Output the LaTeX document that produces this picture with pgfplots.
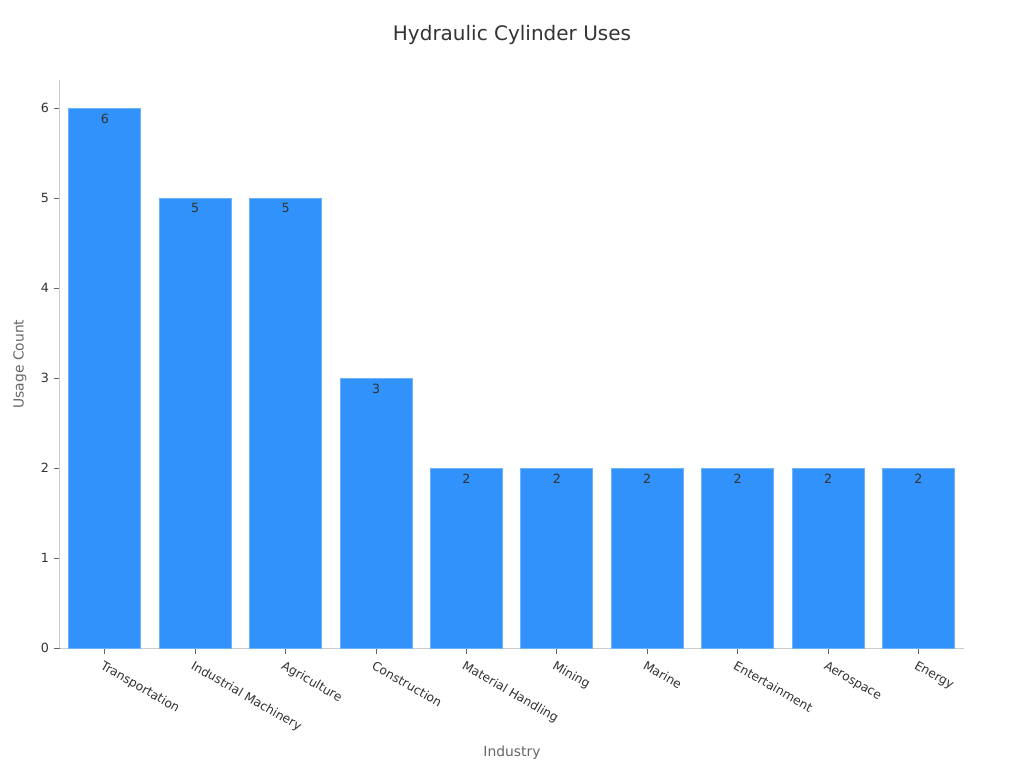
\documentclass[border=0pt]{standalone}
\usepackage{fontspec}
\setmainfont{DejaVu Sans}
\usepackage{pgfplots}
\pgfplotsset{compat=1.18}
\definecolor{barblue}{RGB}{48,146,250}
\definecolor{baredge}{RGB}{110,178,250}
\definecolor{axgray}{RGB}{204,204,204}
\definecolor{txt}{RGB}{51,51,51}
\definecolor{labgray}{RGB}{102,102,102}
\begin{document}
\begin{tikzpicture}[x=0.75pt,y=0.75pt]
\useasboundingbox (0,0) rectangle (1024,768);
\node[font=\fontsize{15}{18}\selectfont, text=txt] at (512,733) {Hydraulic Cylinder Uses};
\node[font=\fontsize{10.4}{12}\selectfont, text=labgray] at (512,15) {Industry};
\node[font=\fontsize{10.4}{12}\selectfont, text=labgray, rotate=90] at (20,404) {Usage Count};
\begin{axis}[
  at={(66,133)}, anchor=south west,
  scale only axis, width=678pt, height=426pt,
  xmin=-0.5, xmax=9.5, ymin=0, ymax=6.31,
  axis x line*=bottom, axis y line*=left,
  axis line style={axgray, line width=0.8pt},
  every outer x axis line/.append style={-}, every outer y axis line/.append style={-},
  tick align=outside, major tick length=4.5pt,
  tick style={labgray, line width=0.6pt},
  ytick={0,1,2,3,4,5,6},
  xtick={0,...,9},
  xticklabels={Transportation,Industrial Machinery,Agriculture,Construction,Material Handling,Mining,Marine,Entertainment,Aerospace,Energy},
  x tick label style={rotate=-30, anchor=north west, xshift=-1.5pt, yshift=-0.5pt, font=\fontsize{9.2}{11}\selectfont, text=txt},
  y tick label style={font=\fontsize{9.5}{11}\selectfont, text=txt},
  /pgf/number format/assume math mode=true,
  ybar, bar width=54pt,
  nodes near coords,
  every node near coord/.append style={anchor=north, font=\fontsize{9.5}{11}\selectfont, text=txt, yshift=-0.5pt},
]
\addplot[fill=barblue, draw=baredge, line width=0.6pt] coordinates {
(0,6) (1,5) (2,5) (3,3) (4,2) (5,2) (6,2) (7,2) (8,2) (9,2)};
\end{axis}
\end{tikzpicture}
\end{document}
